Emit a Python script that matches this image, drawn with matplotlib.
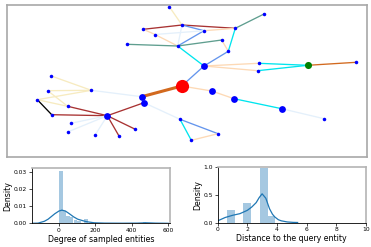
import numpy as np
import matplotlib
matplotlib.use("Agg")
import matplotlib.pyplot as plt

# ---- graph (layout positions) ----
node_x = [181.7, 204, 141.7, 144, 211.7, 234, 281.7, 107.3, 307.7, 169.3,
          264, 182, 143.3, 155, 204, 235.3, 127, 177.7, 221.7, 228.3,
          258.7, 257.7, 356.3, 51.3, 47.7, 91.3, 37.3, 67.7, 51.7, 70.7,
          68.3, 95, 119, 135.3, 180, 218, 191.3, 324]
node_y = [86, 66, 96.7, 102.7, 91, 98.7, 108.7, 115.7, 65.3, 6.7,
          14, 25, 29.3, 34.5, 30.7, 28.3, 44.3, 46, 40, 51.3,
          63.3, 70.7, 62.3, 76, 90.7, 90.3, 99.7, 106.3, 114.7, 123.3,
          131.7, 135.3, 136, 129.3, 119.3, 133.7, 140.3, 118.7]
# 0 = query entity, 8 = answer entity, 1-7 = hops, rest = sampled
node_kind = ["query", "mid", "mid", "mid", "mid", "mid", "mid", "mid", "answer"] + ["small"] * 29

edges = [
    (9, 11, "wheat"), (12, 11, "brown"), (11, 15, "brown"), (12, 13, "peach"),
    (13, 17, "peach"), (11, 17, "alice"), (11, 14, "cblue"), (14, 17, "cblue"),
    (14, 15, "peach"), (16, 17, "teal"), (17, 18, "teal"), (15, 10, "teal"),
    (15, 19, "cyan"), (18, 19, "peach"), (19, 1, "cblue"), (17, 1, "cyan"),
    (13, 14, "alice"),
    (1, 20, "peach"), (1, 21, "peach"), (20, 8, "cyan"), (21, 8, "cyan"),
    (8, 22, "choc"), (0, 1, "cblue"), (0, 2, "choc2"), (0, 4, "peach"),
    (4, 5, "peach"), (5, 6, "cyan"), (6, 37, "alice"),
    (3, 34, "alice"), (34, 35, "cblue"), (34, 36, "cyan"), (36, 35, "peach"),
    (23, 25, "wheat"), (24, 25, "wheat"), (26, 25, "wheat"), (26, 27, "wheat"),
    (24, 27, "wheat"), (26, 28, "black"), (28, 7, "brown"), (27, 7, "brown"),
    (7, 32, "brown"), (7, 33, "brown"), (7, 3, "brown"), (7, 29, "alice"),
    (7, 30, "alice"), (7, 31, "alice"), (25, 2, "alice"),
]

# ---- histogram of degrees ----
deg_left = [1, 20, 40, 60, 80, 100, 140, 460]
deg_height = [0.0307, 0.0071, 0.0043, 0.0035, 0.002, 0.0012, 0.0025, 0.0008]
deg_width = 19
deg_kde_x = [-150, -115, -80, -60, -23, 0, 16, 35, 57, 80, 103, 148, 193, 250,
             350, 430, 480, 530, 600]
deg_kde_y = [0, 0.0001, 0.0012, 0.0024, 0.0056, 0.0072, 0.0077, 0.0072, 0.0056,
             0.0038, 0.0024, 0.001, 0.0003, 0.0001, 0.00005, 0.0001, 0.0003, 0.0001, 0]

# ---- histogram of distances ----
dist_left = [0.62, 1.72, 2.86, 3.40]
dist_width = [0.55, 0.55, 0.54, 0.46]
dist_height = [0.22, 0.36, 0.98, 0.12]
dist_kde_x = [0, 0.5, 1.0, 1.5, 2.0, 2.3, 2.6, 2.8, 3.0, 3.25, 3.5, 3.7, 3.86, 4.1, 4.3, 4.7, 5.1, 5.4]
dist_kde_y = [0.03, 0.09, 0.13, 0.16, 0.22, 0.28, 0.36, 0.45, 0.52, 0.44, 0.25, 0.15,
              0.1, 0.05, 0.03, 0.01, 0.002, 0]

edge_colors = {"wheat": "#f7ebc0", "brown": "#a83232", "peach": "#fdd9b5",
               "alice": "#e4f0fb", "cblue": "#6495ed", "teal": "#5f9e8f",
               "cyan": "#00e5ee", "choc": "#d2691e", "choc2": "#d2691e",
               "black": "black"}
edge_widths = {"choc2": 2.2}
node_style = {"query": ("red", 90), "mid": ("blue", 24),
              "answer": ("green", 26), "small": ("blue", 6.5)}

fig = plt.figure(figsize=(3.71, 2.47), dpi=100)

ax = fig.add_axes([7 / 371, 1 - 157 / 247, 360 / 371, 152 / 247])
for a, b, c in edges:
    ax.plot([node_x[a], node_x[b]], [node_y[a], node_y[b]],
            color=edge_colors[c], lw=edge_widths.get(c, 0.95), zorder=1,
            solid_capstyle="round")
for kind in node_style:
    idx = [i for i, k in enumerate(node_kind) if k == kind]
    col, s = node_style[kind]
    ax.scatter([node_x[i] for i in idx], [node_y[i] for i in idx],
               s=s, color=col, zorder=3, linewidths=0)
ax.set_xlim(7, 367)
ax.set_ylim(157, 5)
ax.set_xticks([])
ax.set_yticks([])
for sp in ax.spines.values():
    sp.set_color("#a8a8a8")
    sp.set_linewidth(1.2)

tick_fs = 4.3
lab_fs = 5.7


def style_axes(a):
    a.tick_params(labelsize=tick_fs, length=2, width=0.5, pad=1.5)
    a.spines["top"].set_color("#b4b4b4")
    a.spines["right"].set_color("#b4b4b4")
    a.spines["top"].set_linewidth(1.2)
    a.spines["right"].set_linewidth(1.2)
    a.spines["left"].set_linewidth(0.6)
    a.spines["bottom"].set_linewidth(0.6)


ax1 = fig.add_axes([31.7 / 371, 1 - 223.3 / 247, 138.3 / 371, 55 / 247])
ax1.bar(deg_left, deg_height, width=deg_width, align="edge",
        color="C0", alpha=0.4, linewidth=0)
ax1.plot(deg_kde_x, deg_kde_y, color="C0", lw=0.9)
ax1.set_xlim(-150, 610)
ax1.set_ylim(0, 0.0322)
ax1.set_xticks([0, 200, 400, 600])
ax1.set_yticks([0, 0.01, 0.02, 0.03])
ax1.set_yticklabels(["0.00", "0.01", "0.02", "0.03"])
ax1.set_xlabel("Degree of sampled entities", fontsize=lab_fs, labelpad=1)
ax1.set_ylabel("Density", fontsize=lab_fs, labelpad=1)
style_axes(ax1)

ax2 = fig.add_axes([217.7 / 371, 1 - 222.5 / 247, 148 / 371, 55.2 / 247])
ax2.bar(dist_left, dist_height, width=dist_width, align="edge",
        color="C0", alpha=0.4, linewidth=0)
ax2.plot(dist_kde_x, dist_kde_y, color="C0", lw=0.9)
ax2.set_xlim(0, 10)
ax2.set_ylim(0, 1.0)
ax2.set_xticks([0, 2, 4, 6, 8, 10])
ax2.set_yticks([0, 0.5, 1.0])
ax2.set_xlabel("Distance to the query entity", fontsize=lab_fs, labelpad=1)
ax2.set_ylabel("Density", fontsize=lab_fs, labelpad=1)
style_axes(ax2)

fig.savefig("out.png", dpi=100)
